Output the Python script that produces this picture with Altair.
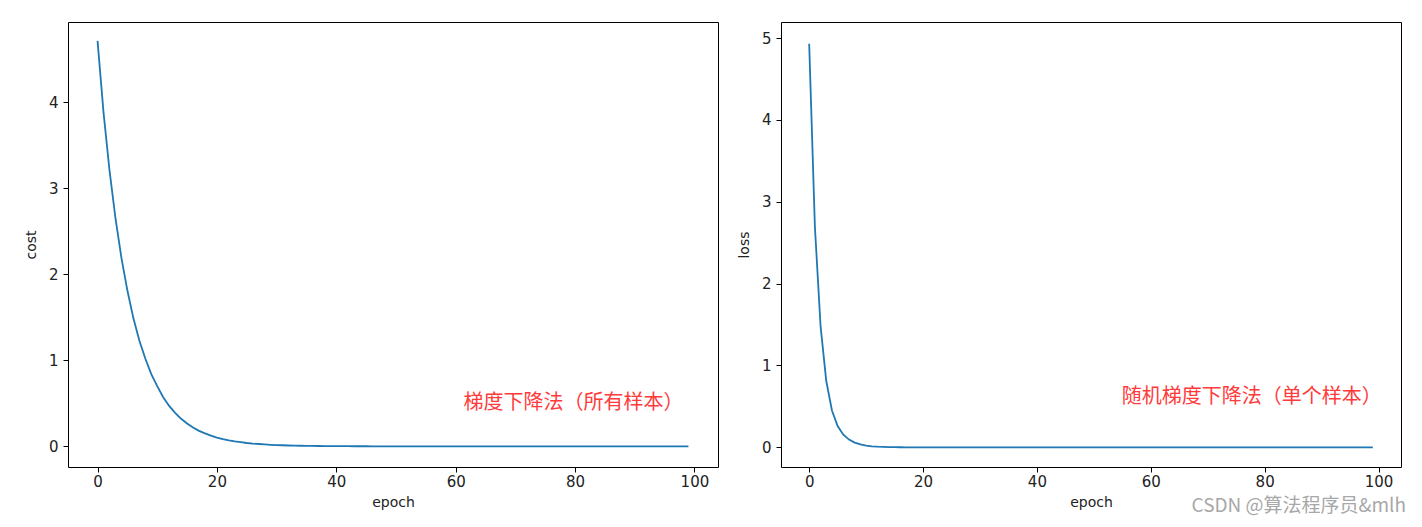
import altair as alt
import pandas as pd

# ---------------- data ----------------
epochs = list(range(100))

cost = [
    4.71, 3.88, 3.21, 2.65, 2.19, 1.81, 1.49, 1.23, 1.02, 0.84,
    0.70, 0.57, 0.47, 0.39, 0.32, 0.265, 0.22, 0.18, 0.15, 0.124,
    0.102, 0.084, 0.070, 0.058, 0.048, 0.039, 0.032, 0.027, 0.022, 0.018,
    0.015, 0.0125, 0.010, 0.0085, 0.007, 0.0058, 0.0048, 0.004, 0.0033, 0.0027,
    0.0022, 0.0018, 0.0015, 0.0012, 0.001, 0.0008, 0.0007, 0.0006, 0.0005, 0.0004,
    0.0003, 0.0003, 0.0002, 0.0002, 0.0002, 0.0001, 0.0001, 0.0001, 0.0001, 0.0001,
    0.0001, 0.0001, 0.0, 0.0, 0.0, 0.0, 0.0, 0.0, 0.0, 0.0,
    0.0, 0.0, 0.0, 0.0, 0.0, 0.0, 0.0, 0.0, 0.0, 0.0,
    0.0, 0.0, 0.0, 0.0, 0.0, 0.0, 0.0, 0.0, 0.0, 0.0,
    0.0, 0.0, 0.0, 0.0, 0.0, 0.0, 0.0, 0.0, 0.0, 0.0,
]

loss = [
    4.93, 2.70, 1.48, 0.81, 0.45, 0.26, 0.155, 0.095, 0.058, 0.036,
    0.022, 0.013, 0.008, 0.005, 0.003, 0.002, 0.001, 0.0007, 0.0004, 0.0003,
    0.0002, 0.0001, 0.0001, 0.0, 0.0, 0.0, 0.0, 0.0, 0.0, 0.0,
    0.0, 0.0, 0.0, 0.0, 0.0, 0.0, 0.0, 0.0, 0.0, 0.0,
    0.0, 0.0, 0.0, 0.0, 0.0, 0.0, 0.0, 0.0, 0.0, 0.0,
    0.0, 0.0, 0.0, 0.0, 0.0, 0.0, 0.0, 0.0, 0.0, 0.0,
    0.0, 0.0, 0.0, 0.0, 0.0, 0.0, 0.0, 0.0, 0.0, 0.0,
    0.0, 0.0, 0.0, 0.0, 0.0, 0.0, 0.0, 0.0, 0.0, 0.0,
    0.0, 0.0, 0.0, 0.0, 0.0, 0.0, 0.0, 0.0, 0.0, 0.0,
    0.0, 0.0, 0.0, 0.0, 0.0, 0.0, 0.0, 0.0, 0.0, 0.0,
]

x_ticks = [0, 20, 40, 60, 80, 100]
cost_ticks = [0, 1, 2, 3, 4]
loss_ticks = [0, 1, 2, 3, 4, 5]

x_domain = [-4.95, 103.95]
cost_domain = [-0.24, 4.93]
loss_domain = [-0.24, 5.196]

left_note = "梯度下降法（所有样本）"
right_note = "随机梯度下降法（单个样本）"
left_note_pos = [61.3, 0.50]
right_note_pos = [54.9, 0.62]

watermark = "CSDN @算法程序员&mlh"

LINE_COLOR = "#1f77b4"
NOTE_COLOR = "#ff3a3a"
TEXT_COLOR = "#222222"
FONT = "DejaVu Sans"
CJK = "Noto Sans CJK SC"


def panel(values, ylab, ydom, yticks, width, height, note, note_pos):
    df = pd.DataFrame({"epoch": epochs, "val": values})
    x_enc = alt.X(
        "epoch:Q",
        scale=alt.Scale(domain=x_domain, nice=False, zero=False),
        axis=alt.Axis(values=x_ticks, title="epoch", format="d"),
    )
    y_enc = alt.Y(
        "val:Q",
        scale=alt.Scale(domain=ydom, nice=False, zero=False),
        axis=alt.Axis(values=yticks, title=ylab, format="d"),
    )
    line = alt.Chart(df).mark_line(color=LINE_COLOR, strokeWidth=1.8).encode(
        x=x_enc, y=y_enc
    )
    ndf = pd.DataFrame({"epoch": [note_pos[0]], "val": [note_pos[1]], "label": [note]})
    txt = alt.Chart(ndf).mark_text(
        align="left", baseline="middle", color=NOTE_COLOR, fontSize=20, font=CJK
    ).encode(x="epoch:Q", y="val:Q", text="label:N")
    return alt.layer(line, txt).properties(width=width, height=height)


left = panel(cost, "cost", cost_domain, cost_ticks, 650, 445, left_note, left_note_pos)

right_base = panel(loss, "loss", loss_domain, loss_ticks, 620, 445, right_note, right_note_pos)
wm = alt.Chart(pd.DataFrame({"t": [watermark]})).mark_text(
    align="right", baseline="middle", color="#a8a8a8", fontSize=19, font=CJK, clip=False
).encode(x=alt.value(625), y=alt.value(484), text="t:N")
right = alt.layer(right_base, wm).properties(width=620, height=445)

chart = (
    alt.hconcat(left, right, spacing=17)
    .properties(padding={"left": 15, "top": 13, "right": 4, "bottom": 0})
    .configure_view(stroke="#000000", strokeWidth=1)
    .configure_axis(
        domain=False,
        grid=False,
        ticks=True,
        tickColor="#000000",
        tickSize=5,
        tickWidth=1,
        labelPadding=5,
        labelFont=FONT,
        labelFontSize=15,
        labelColor=TEXT_COLOR,
        titleFont=FONT,
        titleFontSize=14,
        titleFontWeight="normal",
        titleColor=TEXT_COLOR,
    )
    .configure_axisY(titlePadding=10)
    .configure_axisX(titlePadding=6, labelPadding=2)
)

chart.save("out.html", embed_options={"renderer": "svg", "actions": False})
